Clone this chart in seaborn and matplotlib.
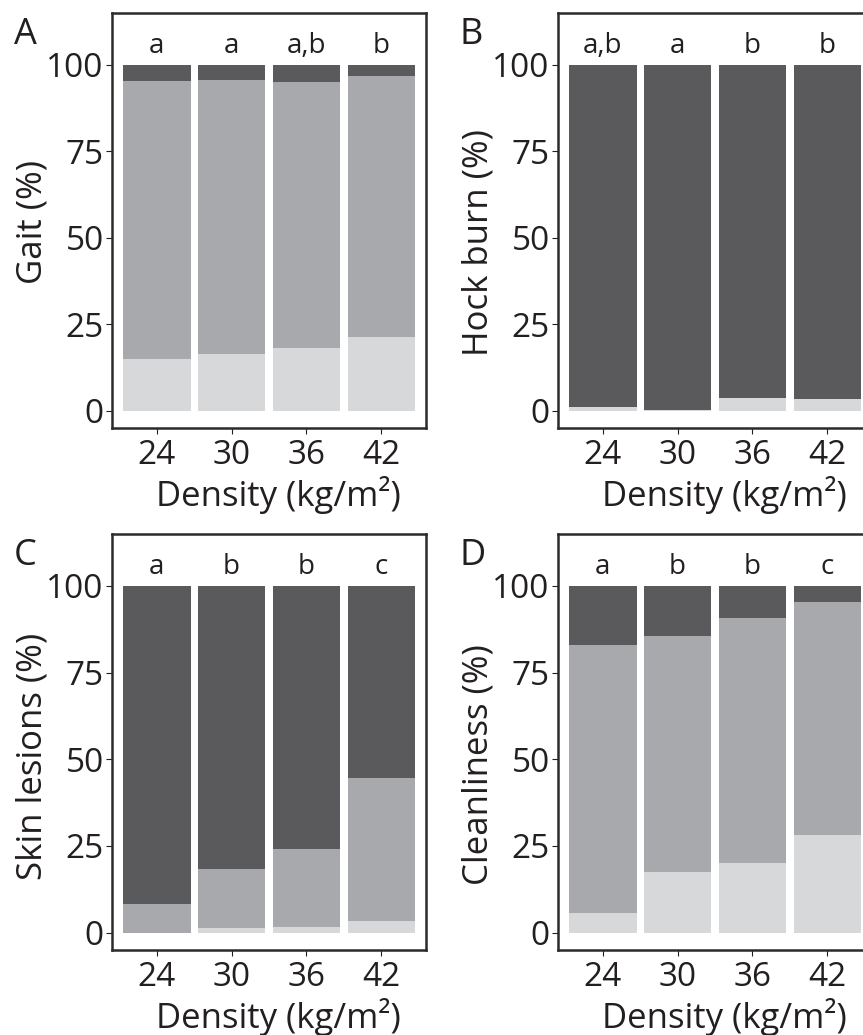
import matplotlib
matplotlib.use("Agg")
import matplotlib.pyplot as plt
import seaborn as sns
import pandas as pd

sns.set_theme(style="white")
plt.rcParams['font.family'] = ['Open Sans', 'DejaVu Sans']

densities = ["24", "30", "36", "42"]

# Stacked percentages per panel: light (bottom), mid, dark (top)
gait_light = [15.0, 16.5, 18.0, 21.4]
gait_mid = [80.4, 79.2, 77.1, 75.4]
gait_dark = [4.6, 4.3, 4.9, 3.2]

hock_light = [1.2, 0.3, 3.8, 3.4]
hock_mid = [0.0, 0.0, 0.0, 0.0]
hock_dark = [98.8, 99.7, 96.2, 96.6]

skin_light = [0.0, 1.4, 1.7, 3.5]
skin_mid = [8.4, 17.1, 22.3, 41.1]
skin_dark = [91.6, 81.5, 76.0, 55.4]

clean_light = [5.8, 17.4, 20.0, 28.1]
clean_mid = [77.3, 68.1, 70.7, 67.3]
clean_dark = [16.9, 14.5, 9.3, 4.6]

gait_letters = ["a", "a", "a,b", "b"]
hock_letters = ["a,b", "a", "b", "b"]
skin_letters = ["a", "b", "b", "c"]
clean_letters = ["a", "b", "b", "c"]

panel_labels = ["A", "B", "C", "D"]
y_titles = ["Gait (%)", "Hock burn (%)", "Skin lesions (%)", "Cleanliness (%)"]
x_title = "Density (kg/m²)"
y_ticks = [0, 25, 50, 75, 100]

c_light = "#d7d8da"
c_mid = "#a8a9ac"
c_dark = "#5a5a5c"
txt = "#231f20"

panels = [
    (gait_light, gait_mid, gait_dark, gait_letters),
    (hock_light, hock_mid, hock_dark, hock_letters),
    (skin_light, skin_mid, skin_dark, skin_letters),
    (clean_light, clean_mid, clean_dark, clean_letters),
]

W, H = 863, 1035
fig = plt.figure(figsize=(W / 100, H / 100), dpi=100)

# axes boxes in pixels: left, top, right, bottom
boxes = [(112, 13, 426, 428), (558, 13, 872, 428),
         (112, 534, 426, 950), (558, 534, 872, 950)]
ylabel_y = [0.496, 0.448, 0.466, 0.445]
label_pos = [(25, 35), (471, 35), (25, 556), (473, 556)]

for i, (light, mid, dark, letters) in enumerate(panels):
    l, t, r, b = boxes[i]
    ax = fig.add_axes([l / W, 1 - b / H, (r - l) / W, (b - t) / H])
    df = pd.DataFrame({
        "density": densities,
        "light": light,
        "mid": mid,
        "dark": dark,
    })
    df["cum_mid"] = df["light"] + df["mid"]
    df["cum_dark"] = df["cum_mid"] + df["dark"]
    sns.barplot(data=df, x="density", y="cum_dark", color=c_dark, width=0.9,
                saturation=1, linewidth=0, ax=ax)
    sns.barplot(data=df, x="density", y="cum_mid", color=c_mid, width=0.9,
                saturation=1, linewidth=0, ax=ax)
    sns.barplot(data=df, x="density", y="light", color=c_light, width=0.9,
                saturation=1, linewidth=0, ax=ax)
    for j, lab in enumerate(letters):
        ax.text(j, 103.5, lab, ha="center", va="baseline", fontsize=20, color=txt)
    ax.set_xlim(-0.6, 3.6)
    ax.set_ylim(-5, 115)
    ax.set_yticks(y_ticks)
    ax.set_yticklabels([str(v) for v in y_ticks])
    ax.set_xticks(range(len(densities)))
    ax.set_xticklabels(densities)
    ax.tick_params(axis="both", labelsize=24, colors=txt, length=4, width=0.8,
                   direction="out", bottom=True, left=True)
    ax.tick_params(axis="x", pad=4)
    ax.tick_params(axis="y", pad=2)
    for sp in ax.spines.values():
        sp.set_visible(True)
        sp.set_color("#2b2b2b")
        sp.set_linewidth(1.8)
    ax.set_xlabel(x_title, fontsize=25, color=txt)
    ax.set_ylabel(y_titles[i], fontsize=25, color=txt)
    ax.xaxis.set_label_coords(0.529, -0.115)
    ax.yaxis.set_label_coords(-0.20, ylabel_y[i])
    ax.grid(False)
    px, py = label_pos[i]
    fig.text(px / W, 1 - py / H, panel_labels[i], ha="center", va="center",
             fontsize=26, color=txt)

fig.savefig("out.png", dpi=100)
